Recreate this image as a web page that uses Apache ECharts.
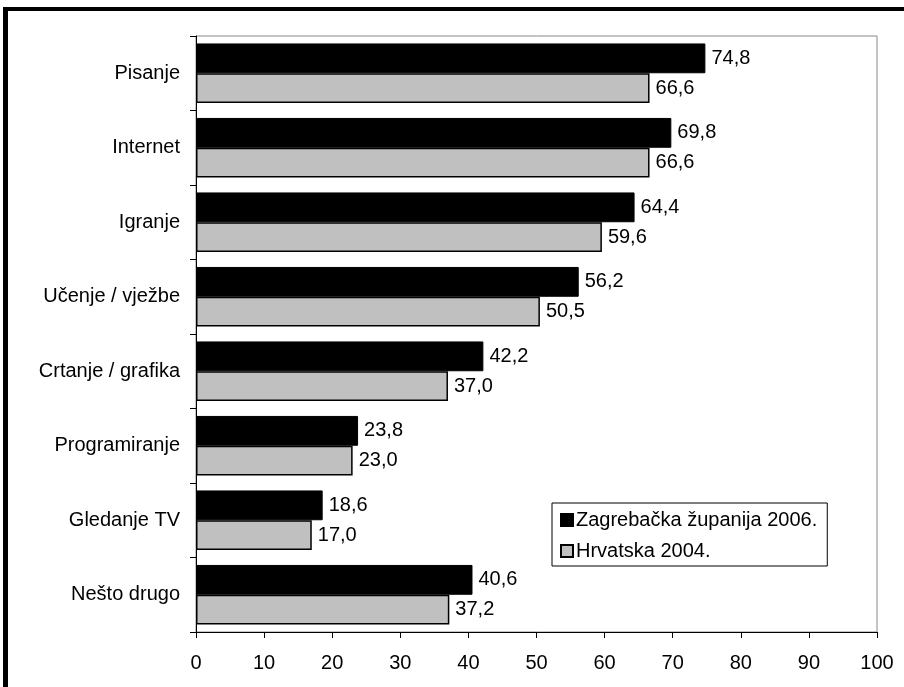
<!DOCTYPE html>
<html><head><meta charset="utf-8">
<script src="https://cdn.jsdelivr.net/npm/echarts@6/dist/echarts.min.js"></script>
<style>html,body{margin:0;padding:0;background:#fff}#c{width:904px;height:687px}</style>
</head><body><div id="c"></div>
<script>
const categories = ['Pisanje','Internet','Igranje','Učenje / vježbe','Crtanje / grafika','Programiranje','Gledanje TV','Nešto drugo'];
const zagreb2006 = [74.8,69.8,64.4,56.2,42.2,23.8,18.6,40.6];
const hrvatska2004 = [66.6,66.6,59.6,50.5,37.0,23.0,17.0,37.2];
const seriesNames = ['Zagrebačka županija 2006.','Hrvatska 2004.'];
const xTicks = {min:0,max:100,interval:10};

const font = 'Liberation Sans, Arial, sans-serif';
const fs = 20;
const fmt = p => p.value.toFixed(1).replace('.', ',');
const chart = echarts.init(document.getElementById('c'), null, {renderer:'canvas'});
chart.setOption({
  animation:false,
  textStyle:{fontFamily:font},
  graphic:[
    {type:'rect',shape:{x:3,y:7,width:901,height:4},style:{fill:'#000'},z:100},
    {type:'rect',shape:{x:3,y:7,width:5,height:680},style:{fill:'#000'},z:100}
  ],
  grid:{left:196,right:27,top:36,bottom:55,show:true,borderColor:'#888',borderWidth:1,backgroundColor:'#fff'},
  legend:{
    orient:'vertical',left:552,top:503,
    data:seriesNames,
    backgroundColor:'#fff',borderColor:'#000',borderWidth:1,
    padding:[7,10,5,8],itemGap:11,itemWidth:12,itemHeight:12,
    textStyle:{fontFamily:font,fontSize:fs,lineHeight:20,color:'#000',padding:[0,0,0,-2]},
    icon:'rect'
  },
  xAxis:{type:'value',min:xTicks.min,max:xTicks.max,interval:xTicks.interval,
    axisLine:{show:true,lineStyle:{color:'#000',width:1}},
    axisTick:{show:true,length:6,lineStyle:{color:'#000'}},
    splitLine:{show:false},
    axisLabel:{fontFamily:font,fontSize:fs,color:'#000',margin:21}
  },
  yAxis:{type:'category',data:categories,inverse:true,
    axisLine:{show:true,lineStyle:{color:'#000',width:1}},
    axisTick:{show:true,length:6,inside:false,lineStyle:{color:'#000'}},
    axisLabel:{fontFamily:font,fontSize:fs,color:'#000',margin:16}
  },
  series:[
    {name:seriesNames[0],type:'bar',data:zagreb2006,barGap:'0%',barCategoryGap:'20%',
     itemStyle:{color:'#000',borderColor:'#000',borderWidth:1},
     label:{show:true,position:'right',distance:6,formatter:fmt,fontFamily:font,fontSize:fs,color:'#000'}},
    {name:seriesNames[1],type:'bar',data:hrvatska2004,barGap:'0%',barCategoryGap:'20%',
     itemStyle:{color:'#c0c0c0',borderColor:'#000',borderWidth:1.5},
     label:{show:true,position:'right',distance:6,formatter:fmt,fontFamily:font,fontSize:fs,color:'#000'}}
  ]
});
</script></body></html>
